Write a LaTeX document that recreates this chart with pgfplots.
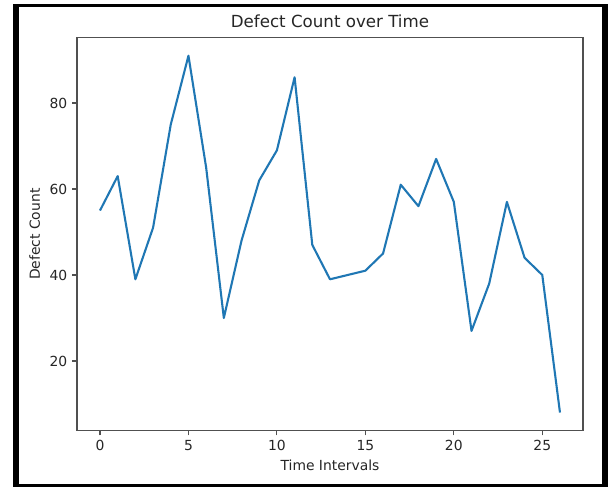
\documentclass[border=0pt]{standalone}
\usepackage{pgfplots}
\pgfplotsset{compat=1.18}
\usepackage{fontspec}
\setmainfont{DejaVu Sans}
\definecolor{mplblue}{HTML}{1F77B4}
\definecolor{spine}{HTML}{505050}
\begin{document}
\begin{tikzpicture}[x=0.72pt,y=0.72pt]
\useasboundingbox (0,0) rectangle (611,487);
\fill[white] (0,0) rectangle (611,487);
\fill[black] (13,0) rectangle (19,483);
\fill[black] (602,0) rectangle (608,483);
\fill[black] (13,480) rectangle (608,483);
\fill[black] (13,0) rectangle (608,3);
\begin{axis}[
  at={(55.44pt,40.75pt)}, anchor=south west,
  scale only axis, width=364.3pt, height=282.6pt,
  xmin=-1.3, xmax=27.3, ymin=3.85, ymax=95.15,
  xtick={0,5,10,15,20,25}, ytick={20,40,60,80},
  tick align=outside, tick pos=left,
  major tick length=3.5pt,
  axis line style={spine, line width=0.8pt},
  every tick/.style={spine, line width=0.8pt},
  /pgf/number format/assume math mode=true,
  tick label style={font=\fontsize{10}{12}\selectfont, text=black!85},
  label style={font=\fontsize{10}{12}\selectfont, text=black!85},
  title style={font=\fontsize{12}{14}\selectfont, text=black!85, yshift=-2pt},
  title={Defect Count over Time},
  xlabel={Time Intervals}, ylabel={Defect Count},
  clip=false,
]
\addplot[mplblue, line width=1.5pt, line join=round] coordinates {
(0,55) (1,63) (2,39) (3,51) (4,75) (5,91) (6,65) (7,30) (8,48) (9,62)
(10,69) (11,86) (12,47) (13,39) (14,40) (15,41) (16,45) (17,61) (18,56)
(19,67) (20,57) (21,27) (22,38) (23,57) (24,44) (25,40) (26,8)
};
\end{axis}
\end{tikzpicture}
\end{document}
